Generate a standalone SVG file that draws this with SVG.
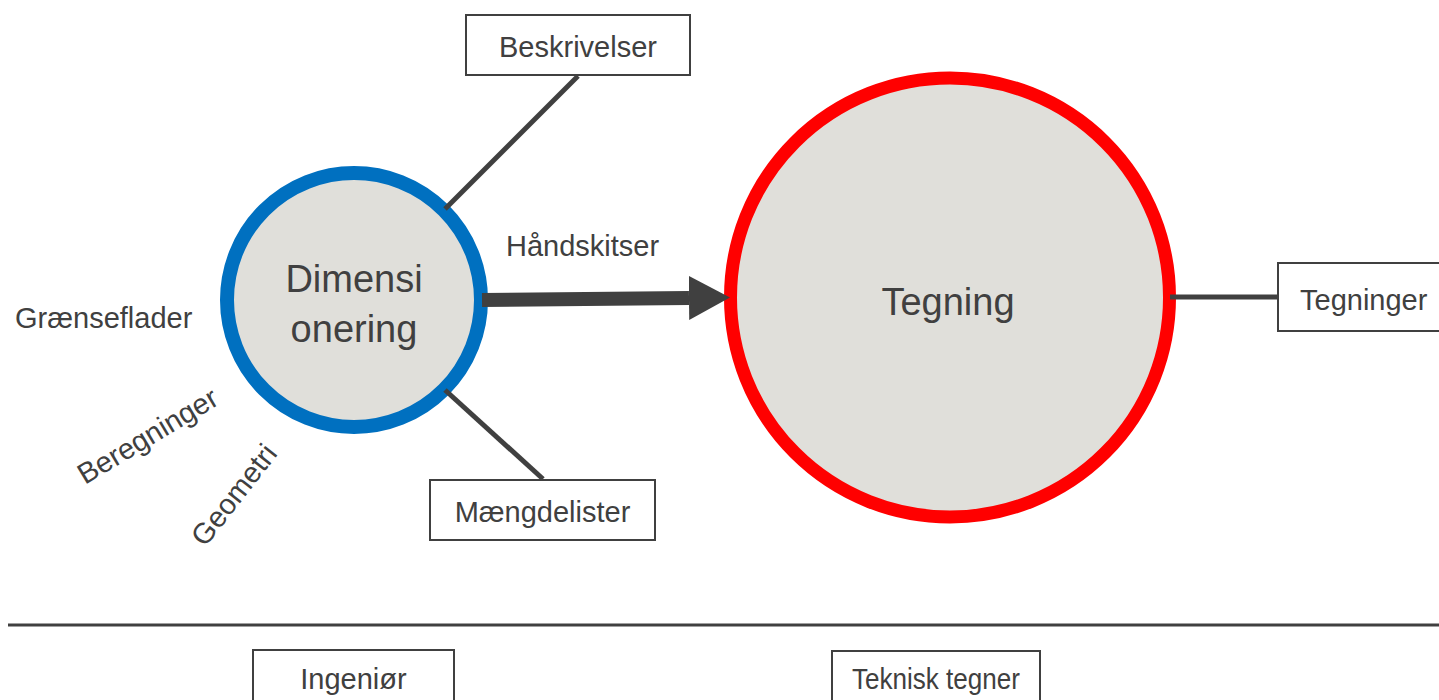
<svg xmlns="http://www.w3.org/2000/svg" width="1439" height="700" viewBox="0 0 1439 700">
<style>
text{font-family:"Liberation Sans",Arial,sans-serif;fill:#404040}
.lbl{font-size:29px}
.big{font-size:38px}
.c{text-anchor:middle}
.box{fill:#fff;stroke:#404040;stroke-width:2}
.circ{fill:#e0dfda}
.conn{stroke:#404040;stroke-width:5;fill:none}
</style>
<defs>
<marker id="ah" markerUnits="userSpaceOnUse" markerWidth="42" markerHeight="44" viewBox="0 0 42 44" refX="0" refY="22" orient="auto">
<path d="M0,0 L41,22 L0,44 z" fill="#404040"/>
</marker>
</defs>
<rect width="1439" height="700" fill="#fff"/>
<g id="node-dimensionering">
<circle class="circ" cx="354" cy="300" r="127" stroke="#0070c0" stroke-width="14"/>
<text class="big c" x="354" y="292">Dimensi</text>
<text class="big c" x="354" y="342">onering</text>
</g>
<g id="node-tegning">
<circle class="circ" cx="950" cy="297.5" r="219.5" stroke="#ff0000" stroke-width="13"/>
<text class="big c" x="948" y="315">Tegning</text>
</g>
<g id="node-beskrivelser">
<rect class="box" x="466" y="15" width="224" height="60"/>
<text class="lbl c" x="578" y="57">Beskrivelser</text>
</g>
<g id="node-maengdelister">
<rect class="box" x="430" y="480" width="225" height="60"/>
<text class="lbl c" x="542.5" y="522">Mængdelister</text>
</g>
<g id="node-tegninger">
<rect class="box" x="1278" y="263" width="175" height="68"/>
<text class="lbl" x="1300" y="310">Tegninger</text>
</g>
<g id="node-ingenioer">
<rect class="box" x="253" y="650" width="201" height="70"/>
<text class="lbl c" x="353.5" y="689">Ingeniør</text>
</g>
<g id="node-teknisk-tegner">
<rect class="box" x="832" y="651" width="208" height="70"/>
<text class="lbl c" x="936" y="689" textLength="168" lengthAdjust="spacingAndGlyphs">Teknisk tegner</text>
</g>
<g id="labels">
<text class="lbl" x="15" y="328">Grænseflader</text>
<text class="lbl" x="506" y="256">Håndskitser</text>
<text class="lbl" transform="translate(85,485) rotate(-31)">Beregninger</text>
<text class="lbl" transform="translate(205,548) rotate(-52)">Geometri</text>
</g>
<g id="connectors">
<line class="conn" x1="578" y1="76" x2="445" y2="209"/>
<line class="conn" x1="445" y1="390" x2="543" y2="479"/>
<line class="conn" x1="1170" y1="297" x2="1278" y2="297"/>
<line x1="482" y1="300" x2="689" y2="298" stroke="#404040" stroke-width="14" marker-end="url(#ah)"/>
<line x1="8" y1="625" x2="1439" y2="625" stroke="#404040" stroke-width="3"/>
</g>
</svg>
